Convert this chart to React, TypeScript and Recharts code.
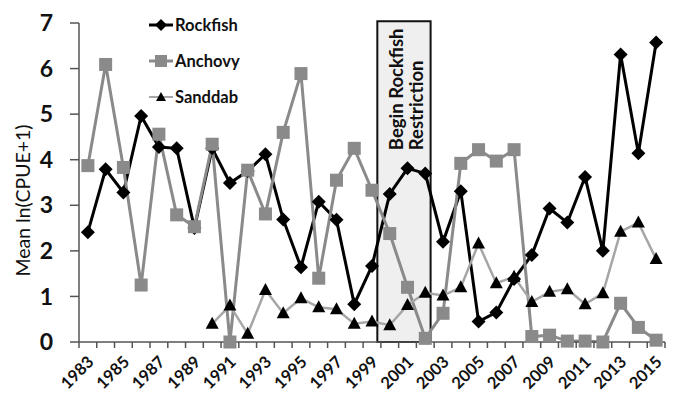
import React from "react";
import { LineChart, Line, XAxis, YAxis, ReferenceArea } from "recharts";

const years = [1983, 1984, 1985, 1986, 1987, 1988, 1989, 1990, 1991, 1992, 1993, 1994, 1995, 1996, 1997, 1998, 1999, 2000, 2001, 2002, 2003, 2004, 2005, 2006, 2007, 2008, 2009, 2010, 2011, 2012, 2013, 2014, 2015];
const rockfish = [2.41, 3.79, 3.28, 4.96, 4.28, 4.25, 2.5, 4.25, 3.49, 3.75, 4.12, 2.69, 1.64, 3.08, 2.68, 0.83, 1.67, 3.25, 3.81, 3.7, 2.2, 3.31, 0.45, 0.65, 1.38, 1.91, 2.93, 2.62, 3.62, 2.0, 6.31, 4.14, 6.57];
const anchovy = [3.87, 6.09, 3.83, 1.25, 4.56, 2.79, 2.53, 4.34, 0.0, 3.77, 2.81, 4.6, 5.89, 1.4, 3.55, 4.25, 3.33, 2.38, 1.2, 0.08, 0.63, 3.92, 4.22, 3.97, 4.22, 0.12, 0.15, 0.02, 0.02, 0.0, 0.85, 0.32, 0.04];
const sanddab = [null, null, null, null, null, null, null, 0.4, 0.8, 0.18, 1.14, 0.63, 0.96, 0.76, 0.72, 0.4, 0.45, 0.37, 0.81, 1.08, 1.02, 1.2, 2.16, 1.29, 1.43, 0.88, 1.1, 1.16, 0.83, 1.07, 2.42, 2.62, 1.82];
const yTicks = [0, 1, 2, 3, 4, 5, 6, 7];
const restrictionStart = 1999.3;
const restrictionEnd = 2002.3;
const restrictionLines = ["Begin Rockfish", "Restriction"];
const seriesNames = ["Rockfish", "Anchovy", "Sanddab"];
const yLabel = "Mean ln(CPUE+1)";

const data = years.map((y, i) => ({ year: y, Rockfish: rockfish[i], Anchovy: anchovy[i], Sanddab: sanddab[i] }));

const W = 675;
const H = 399;
const M = { top: 23, right: 10, bottom: 0, left: 0 };
const Y_W = 79;
const X_H = 57;
const PLOT_W = W - M.left - M.right - Y_W;
const STEP = PLOT_W / years.length;
const FONT = "Lato, 'Open Sans', sans-serif";

const XTick = (props: any) => {
  const { x, y, payload, index } = props;
  const half = STEP / 2;
  const yr = payload.value;
  const isLast = index === years.length - 1;
  return (
    <g>
      <line x1={x - half} x2={x - half} y1={y} y2={y + 6} stroke="#555" strokeWidth={1.5} />
      {isLast && <line x1={x + half} x2={x + half} y1={y} y2={y + 6} stroke="#555" strokeWidth={1.5} />}
      {(yr - years[0]) % 2 === 0 && (
        <text
          transform={`translate(${x + 7},${y + 21}) rotate(-45)`}
          textAnchor="end"
          fontSize={16.5}
          fontWeight={700}
          fontFamily={FONT}
          fill="#111"
        >
          {yr}
        </text>
      )}
    </g>
  );
};

const Diamond = (p: any) => {
  const { cx, cy, index } = p;
  if (cx == null || cy == null) return <g key={`d${index}`} />;
  const r = 7;
  return <polygon key={`d${index}`} points={`${cx},${cy - r} ${cx + r},${cy} ${cx},${cy + r} ${cx - r},${cy}`} fill="#000" />;
};
const Square = (p: any) => {
  const { cx, cy, index } = p;
  if (cx == null || cy == null) return <g key={`s${index}`} />;
  const s = 13;
  return <rect key={`s${index}`} x={cx - s / 2} y={cy - s / 2} width={s} height={s} fill="#8a8a8a" />;
};
const Triangle = (p: any) => {
  const { cx, cy, index, value } = p;
  if (cx == null || cy == null || value == null) return <g key={`t${index}`} />;
  return <polygon key={`t${index}`} points={`${cx},${cy - 7} ${cx + 6.5},${cy + 5} ${cx - 6.5},${cy + 5}`} fill="#000" />;
};

const AreaLabel = (props: any) => {
  const vb = props.viewBox || {};
  const cx = vb.x + vb.width / 2;
  const y0 = vb.y + 129;
  return (
    <g>
      {restrictionLines.map((t, i) => (
        <text
          key={t}
          transform={`translate(${cx - 1 + i * 20},${y0}) rotate(-90)`}
          textAnchor="start"
          fontSize={18.5}
          fontWeight={700}
          fontFamily={FONT}
          fill="#111"
        >
          {t}
        </text>
      ))}
    </g>
  );
};

const YLabel = (props: any) => {
  const vb = props.viewBox || {};
  const cy = vb.y + vb.height / 2 + 18;
  return (
    <text
      transform={`translate(${30},${cy}) rotate(-90)`}
      textAnchor="middle"
      fontSize={19.5}
      fontFamily={FONT}
      fill="#111"
    >
      {yLabel}
    </text>
  );
};

const legendItems = [
  { name: seriesNames[0], color: "#000", lw: 3, marker: "diamond" },
  { name: seriesNames[1], color: "#8a8a8a", lw: 3, marker: "square" },
  { name: seriesNames[2], color: "#a6a6a6", lw: 2, marker: "triangle" },
];

const LegendBox = () => (
  <svg width={130} height={110} style={{ position: "absolute", left: 145, top: 8 }}>
    {legendItems.map((it, i) => {
      const cy = 17 + i * 36;
      const cx = 16;
      return (
        <g key={it.name}>
          <line x1={4} x2={28} y1={cy} y2={cy} stroke={it.color} strokeWidth={it.lw} />
          {it.marker === "diamond" && <polygon points={`${cx},${cy - 6} ${cx + 6},${cy} ${cx},${cy + 6} ${cx - 6},${cy}`} fill="#000" />}
          {it.marker === "square" && <rect x={cx - 6} y={cy - 6} width={12} height={12} fill="#8a8a8a" />}
          {it.marker === "triangle" && <polygon points={`${cx},${cy - 5} ${cx + 5},${cy + 4} ${cx - 5},${cy + 4}`} fill="#000" />}
          <text x={30} y={cy + 6} fontSize={16.5} fontWeight={700} fontFamily={FONT} fill="#111">
            {it.name}
          </text>
        </g>
      );
    })}
  </svg>
);

export default function App() {
  return (
    <div style={{ position: "absolute", left: 0, top: 0, width: W, height: H, background: "#fff" }}>
      <LineChart width={W} height={H} data={data} margin={M}>
        <XAxis
          dataKey="year"
          type="number"
          domain={[years[0] - 0.5, years[years.length - 1] + 0.5]}
          ticks={years}
          interval={0}
          tickLine={false}
          tickSize={0}
          tickMargin={0}
          height={X_H}
          axisLine={{ stroke: "#555", strokeWidth: 1.5 }}
          tick={<XTick />}
        />
        <YAxis
          type="number"
          domain={[0, 7]}
          ticks={yTicks}
          interval={0}
          width={Y_W}
          tickSize={9}
          tickMargin={17}
          tickLine={{ stroke: "#555", strokeWidth: 1.5 }}
          axisLine={{ stroke: "#555", strokeWidth: 1.5 }}
          tick={{ fontSize: 23, fontWeight: 700, fill: "#111", fontFamily: FONT }}
          label={<YLabel />}
        />
        <ReferenceArea
          x1={restrictionStart}
          x2={restrictionEnd}
          y1={0}
          y2={7.04}
          ifOverflow="visible"
          fill="#efefef"
          fillOpacity={1}
          stroke="#111"
          strokeWidth={2}
          label={<AreaLabel />}
        />
        <Line dataKey="Rockfish" stroke="#000" strokeWidth={3} dot={<Diamond />} activeDot={false} isAnimationActive={false} />
        <Line dataKey="Anchovy" stroke="#8a8a8a" strokeWidth={3} dot={<Square />} activeDot={false} isAnimationActive={false} />
        <Line dataKey="Sanddab" stroke="#a6a6a6" strokeWidth={2.5} dot={<Triangle />} activeDot={false} connectNulls={false} isAnimationActive={false} />
      </LineChart>
      <LegendBox />
    </div>
  );
}
